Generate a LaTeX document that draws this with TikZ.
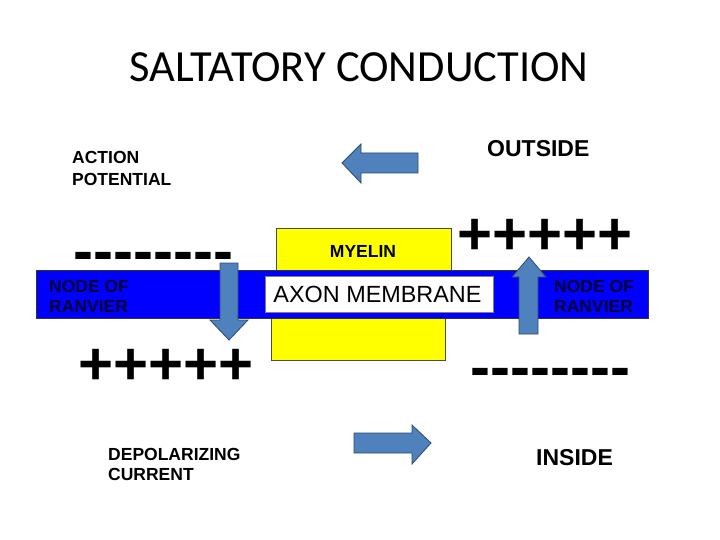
\documentclass[tikz,border=0pt]{standalone}
\usepackage{fontspec}
\setmainfont{Liberation Sans}
\newfontfamily\titlefont{Carlito}
\definecolor{bandblue}{HTML}{0000FF}
\definecolor{myelinyellow}{HTML}{FFFF00}
\definecolor{arrowfill}{HTML}{4F81BD}
\definecolor{arrowline}{HTML}{2C4A70}
\definecolor{navytext}{HTML}{000038}
\newcommand{\minusrow}{-\kern0pt-\kern0pt-\kern0pt-\kern0pt-\kern0pt-\kern0pt-\kern0pt-}
\tikzset{
  lbl/.style={inner sep=0pt, anchor=base west, font=\fontsize{17.5}{20}\selectfont\bfseries},
  biglbl/.style={inner sep=0pt, anchor=base west, font=\fontsize{23}{26}\selectfont\bfseries},
  signs/.style={inner sep=0pt, anchor=base west, font=\fontsize{60}{60}\selectfont\bfseries},
  blockarrow/.style={fill=arrowfill, draw=arrowline, line width=0.8pt, line join=miter},
}
\begin{document}
\begin{tikzpicture}[x=1pt,y=-1pt]
\useasboundingbox (0,0) rectangle (720,540);
\fill[white] (0,0) rectangle (720,540);
% title
\node[inner sep=0pt, anchor=base, font=\titlefont\fontsize{44.5}{48}\selectfont] (title) at (359,82) {SALTATORY CONDUCTION};
% myelin
\draw[fill=myelinyellow, draw=black!70, line width=0.6pt] (276,228) rectangle (451,275);
\draw[fill=myelinyellow, draw=black!70, line width=0.6pt] (271,312) rectangle (445,360);
% band
\draw[fill=bandblue, draw=black!80, line width=0.6pt] (36,270) rectangle (648,318);
% axon membrane box
\node[draw=black!50, fill=white, line width=0.6pt, minimum width=228pt, minimum height=36pt, inner sep=0pt] (axonbox) at (379,294) {};
\node[inner sep=0pt, anchor=base, font=\fontsize{23.4}{26}\selectfont] (axon) at (377.5,302) {AXON MEMBRANE};
% labels
\node[lbl] (action) at (72,164) {ACTION};
\node[lbl] (potential) at (72,186) {POTENTIAL};
\node[biglbl] (outside) at (487,157) {OUTSIDE};
\node[lbl, anchor=base] (myelin) at (363,257) {MYELIN};
\node[lbl, text=navytext] (nodeL1) at (49,292) {NODE OF};
\node[lbl, text=navytext] (nodeL2) at (49,312) {RANVIER};
\node[lbl, text=navytext] (nodeR1) at (554,292) {NODE OF};
\node[lbl, text=navytext] (nodeR2) at (554,312) {RANVIER};
\node[lbl] (depol) at (108,460) {DEPOLARIZING};
\node[lbl] (current) at (108,480) {CURRENT};
\node[biglbl] (inside) at (536,465) {INSIDE};
% charges
\node[signs] (minusL) at (73,271) {\minusrow};
\node[signs] (plusL) at (78,384.5) {+++++};
\node[signs] (plusR) at (457,254.5) {+++++};
\node[signs] (minusR) at (470,387) {\minusrow};
% arrows
\draw[blockarrow] (220,263) -- (238,263) -- (238,320) -- (248,320) -- (229,340) -- (210,320) -- (220,320) -- cycle;
\draw[blockarrow] (519,334) -- (538,334) -- (538,277) -- (546,277) -- (529,257) -- (512,277) -- (519,277) -- cycle;
\draw[blockarrow] (418,153) -- (361,153) -- (361,144) -- (342,163) -- (361,183) -- (361,173) -- (418,173) -- cycle;
\draw[blockarrow] (354,433) -- (412,433) -- (412,425) -- (431,443) -- (412,464) -- (412,453) -- (354,453) -- cycle;
\end{tikzpicture}
\end{document}
